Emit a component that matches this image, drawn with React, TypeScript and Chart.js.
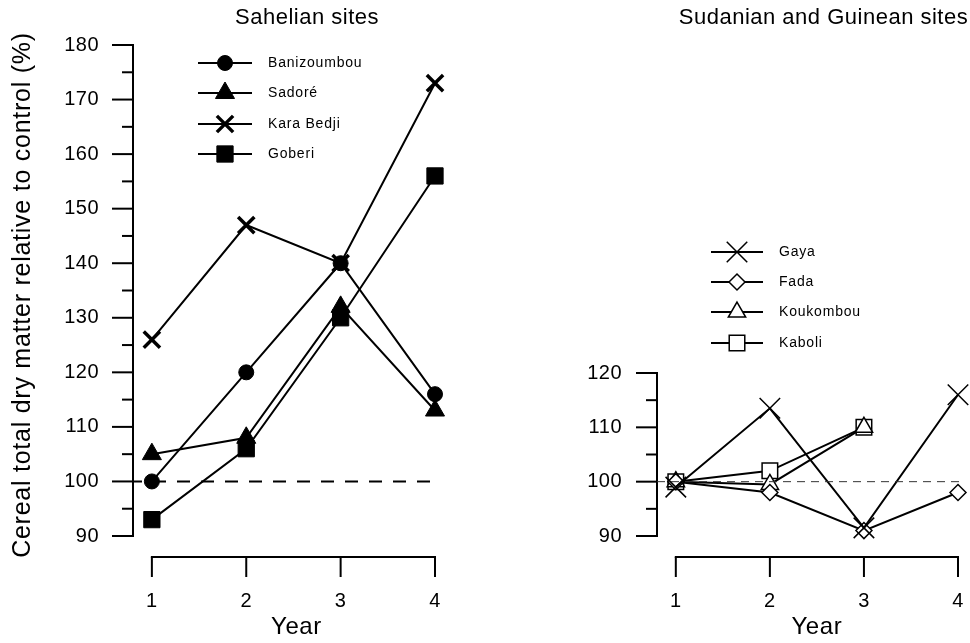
import React, { useEffect, useRef } from 'react';
import { Chart, registerables } from 'chart.js';
import { drawPoint } from 'chart.js/helpers';

Chart.register(...registerables);

// ---------------- data ----------------
const years = [1, 2, 3, 4];

const sahelNames = ['Banizoumbou', 'Sadoré', 'Kara Bedji', 'Goberi'];
const banizoumbou = [100, 120, 140, 116];
const sadore = [105, 108, 132, 113];
const karaBedji = [126, 147, 140, 173];
const goberi = [93, 106, 130, 156];

const sudanNames = ['Gaya', 'Fada', 'Koukombou', 'Kaboli'];
const gaya = [99, 113.5, 91.5, 116];
const fada = [100, 98, 91, 98];
const koukombou = [100, 99.5, 110, null];
const kaboli = [100, 102, 110, null];

const leftYTicks = [90, 100, 110, 120, 130, 140, 150, 160, 170, 180];
const rightYTicks = [90, 100, 110, 120];
const controlLevel = 100;

const leftTitle = 'Sahelian sites';
const rightTitle = 'Sudanian and Guinean sites';
const yTitle = 'Cereal total dry matter relative to control (%)';
const xTitle = 'Year';

const FONT = '"Liberation Sans", Arial, Helvetica, sans-serif';
Chart.defaults.font.family = FONT;
Chart.defaults.color = '#000';

const toPts = (vals: (number | null)[]) => years.map((x, i) => ({ x, y: vals[i] }));

const CLEAR = 'rgba(0,0,0,0)';

function panelPlugin(cfg: any) {
  return {
    id: 'panel',
    beforeDraw(chart: any) {
      const ctx = chart.ctx as any;
      ctx.save();
      ctx.fillStyle = '#fff';
      ctx.fillRect(0, 0, chart.width, chart.height);
      ctx.restore();
      ctx.letterSpacing = '0.5px';
    },
    afterDraw(chart: any) {
      const ctx = chart.ctx as any;
      const ca = chart.chartArea;
      const xs = chart.scales.x;
      const ys = chart.scales.y;
      ctx.save();
      ctx.strokeStyle = '#000';
      ctx.fillStyle = '#000';
      ctx.lineWidth = 2;
      ctx.lineCap = 'butt';
      // y ticks (major + minor)
      const ticks: number[] = cfg.yTicks;
      for (let i = 0; i < ticks.length; i++) {
        const py = ys.getPixelForValue(ticks[i]);
        ctx.beginPath();
        ctx.moveTo(ca.left - 21, py);
        ctx.lineTo(ca.left, py);
        ctx.stroke();
        if (i < ticks.length - 1) {
          const pm = ys.getPixelForValue((ticks[i] + ticks[i + 1]) / 2);
          ctx.beginPath();
          ctx.moveTo(ca.left - 11, pm);
          ctx.lineTo(ca.left, pm);
          ctx.stroke();
        }
      }
      // detached x axis
      const axisY = ca.bottom + 21;
      const x0 = xs.getPixelForValue(years[0]);
      const x1 = xs.getPixelForValue(years[years.length - 1]);
      ctx.beginPath();
      ctx.moveTo(x0 - 1, axisY);
      ctx.lineTo(x1 + 1, axisY);
      ctx.stroke();
      years.forEach((yr) => {
        const px = xs.getPixelForValue(yr);
        ctx.beginPath();
        ctx.moveTo(px, axisY);
        ctx.lineTo(px, axisY + 20);
        ctx.stroke();
      });
      // x title
      ctx.letterSpacing = '0.6px';
      ctx.font = `24px ${FONT}`;
      ctx.textAlign = 'center';
      ctx.textBaseline = 'middle';
      ctx.fillText(xTitle, (x0 + x1) / 2 + cfg.xTitleShift, 627);
      // y title (rotated)
      if (cfg.yTitle) {
        ctx.save();
        ctx.letterSpacing = '0.75px';
        ctx.font = `25px ${FONT}`;
        ctx.translate(23, 295);
        ctx.rotate(-Math.PI / 2);
        ctx.fillText(cfg.yTitle, 0, 0);
        ctx.restore();
      }
      // panel title
      ctx.letterSpacing = '0.5px';
      ctx.font = `22px ${FONT}`;
      ctx.fillText(cfg.title, cfg.titleX, 18);
      // legend
      ctx.font = `14px ${FONT}`;
      ctx.letterSpacing = '0.8px';
      ctx.textAlign = 'left';
      const dsList = chart.data.datasets.filter((d: any) => !d.isRef);
      dsList.forEach((d: any, i: number) => {
        const y = cfg.legendRows[i];
        ctx.lineWidth = 2;
        ctx.strokeStyle = '#000';
        ctx.beginPath();
        ctx.moveTo(cfg.legendX0, y);
        ctx.lineTo(cfg.legendX1, y);
        ctx.stroke();
        ctx.fillStyle = d.pointBackgroundColor;
        ctx.lineWidth = d.pointBorderWidth;
        drawPoint(ctx, { pointStyle: d.pointStyle, radius: d.pointRadius, rotation: 0, borderWidth: d.pointBorderWidth }, (cfg.legendX0 + cfg.legendX1) / 2, y);
        ctx.fillStyle = '#000';
        ctx.fillText(d.label, cfg.legendText, y);
      });
      ctx.restore();
    },
  };
}

function makeConfig(cfg: any) {
  return {
    type: 'line',
    data: { datasets: cfg.datasets },
    options: {
      responsive: false,
      animation: false,
      events: [],
      layout: { autoPadding: false, padding: { top: cfg.top, right: cfg.padRight, left: 0, bottom: 0 } },
      plugins: { legend: { display: false }, tooltip: { enabled: false }, title: { display: false } },
      scales: {
        x: {
          type: 'linear',
          min: 0.8,
          max: 4,
          afterBuildTicks: (s: any) => { s.ticks = years.map((v) => ({ value: v })); },
          afterFit: (s: any) => { s.height = 107; },
          grid: { display: true, drawOnChartArea: false, drawTicks: true, tickLength: 53, tickColor: CLEAR, color: CLEAR },
          border: { display: false },
          ticks: { padding: 0, font: { size: 20 }, color: '#000', maxRotation: 0, autoSkip: false },
        },
        y: {
          type: 'linear',
          min: cfg.yTicks[0],
          max: cfg.yTicks[cfg.yTicks.length - 1],
          afterBuildTicks: (s: any) => { s.ticks = cfg.yTicks.map((v: number) => ({ value: v })); },
          afterFit: (s: any) => { s.width = cfg.yWidth; },
          grid: { display: true, drawOnChartArea: false, drawTicks: true, tickLength: cfg.yPad, tickColor: CLEAR, color: CLEAR },
          border: { display: true, width: 2, color: '#000' },
          ticks: { padding: 0, font: { size: 20 }, color: '#000', autoSkip: false },
        },
      },
    },
    plugins: [panelPlugin(cfg)],
  };
}

function series(label: string, vals: any[], style: string, r: number, bw: number, fill: string) {
  return {
    label,
    data: toPts(vals),
    borderColor: '#000',
    borderWidth: 2,
    pointStyle: style,
    pointRadius: r,
    pointBorderWidth: bw,
    pointBorderColor: '#000',
    pointBackgroundColor: fill,
    clip: false,
    spanGaps: false,
  };
}

function leftConfig() {
  return makeConfig({
    top: 45,
    padRight: 50,
    yWidth: 133,
    yPad: 34,
    yTicks: leftYTicks,
    yTitle,
    title: leftTitle,
    titleX: 307,
    xTitleShift: 3,
    legendX0: 198,
    legendX1: 252,
    legendText: 268,
    legendRows: [63, 93, 124, 154],
    datasets: [
      {
        label: 'control', isRef: true,
        data: [{ x: 0.8, y: controlLevel }, { x: 4, y: controlLevel }],
        borderColor: '#000', borderWidth: 2, borderDash: [13, 11], borderDashOffset: 4,
        pointRadius: 0, clip: false,
      },
      series(sahelNames[0], banizoumbou, 'circle', 7.5, 1, '#000'),
      series(sahelNames[1], sadore, 'triangle', 11, 1, '#000'),
      series(sahelNames[2], karaBedji, 'crossRot', 11.5, 3.5, '#000'),
      series(sahelNames[3], goberi, 'rect', 11.5, 1, '#000'),
    ],
  });
}

function rightConfig() {
  return makeConfig({
    top: 373,
    padRight: 12,
    yWidth: 172,
    yPad: 35,
    yTicks: rightYTicks,
    yTitle: null,
    title: rightTitle,
    titleX: 338.5,
    xTitleShift: 0,
    legendX0: 226,
    legendX1: 278,
    legendText: 294,
    legendRows: [252, 282, 312, 343],
    datasets: [
      {
        label: 'control', isRef: true,
        data: [{ x: 0.8, y: controlLevel }, { x: 4.03, y: controlLevel }],
        borderColor: '#333', borderWidth: 1, borderDash: [8, 6],
        pointRadius: 0, clip: false,
      },
      series(sudanNames[0], gaya, 'crossRot', 14.5, 1.5, '#fff'),
      series(sudanNames[1], fada, 'rectRot', 8, 1.5, '#fff'),
      series(sudanNames[2], koukombou, 'triangle', 10, 1.5, '#fff'),
      series(sudanNames[3], kaboli, 'rect', 11, 1.5, '#fff'),
    ],
  });
}

export default function App() {
  const leftRef = useRef<HTMLCanvasElement>(null);
  const rightRef = useRef<HTMLCanvasElement>(null);
  useEffect(() => {
    const c1 = new Chart(leftRef.current as any, leftConfig() as any);
    const c2 = new Chart(rightRef.current as any, rightConfig() as any);
    return () => {
      c1.destroy();
      c2.destroy();
    };
  }, []);
  return (
    <div style={{ position: 'fixed', left: 0, top: 0, width: 970, height: 643, background: '#fff' }}>
      <canvas ref={leftRef} width={485} height={643} style={{ position: 'absolute', left: 0, top: 0, width: 485, height: 643 }} />
      <canvas ref={rightRef} width={485} height={643} style={{ position: 'absolute', left: 485, top: 0, width: 485, height: 643 }} />
    </div>
  );
}
